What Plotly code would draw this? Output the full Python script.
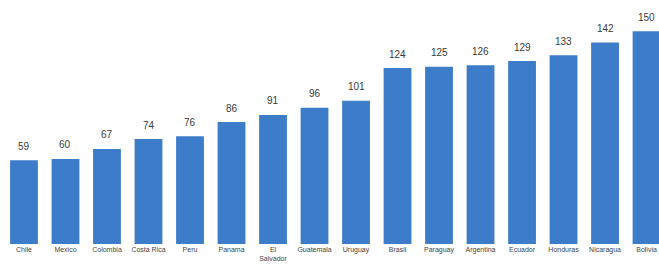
import plotly.graph_objects as go

countries = ["Chile", "Mexico", "Colombia", "Costa Rica", "Peru", "Panama", "El<br>Salvador",
             "Guatemala", "Uruguay", "Brasil", "Paraguay", "Argentina", "Ecuador",
             "Honduras", "Nicaragua", "Bolivia"]
values = [59, 60, 67, 74, 76, 86, 91, 96, 101, 124, 125, 126, 129, 133, 142, 150]

fig = go.Figure()
fig.add_trace(go.Bar(x=countries, y=values, marker_color="#3d7cc9", marker_line_width=0,
                     width=0.67))
for c, v in zip(countries, values):
    fig.add_annotation(x=c, y=v, text=str(v), showarrow=False, yshift=14,
                       font=dict(family="Liberation Sans, Arial", size=10, color="#3a3a3a"))

fig.update_layout(
    width=659, height=264,
    margin=dict(l=0, r=0, t=0, b=20),
    paper_bgcolor="white", plot_bgcolor="white",
    showlegend=False,
    xaxis=dict(range=[-0.578, 15.30], showgrid=False, showline=False, ticks="",
               tickfont=dict(family="Liberation Sans, Arial", size=7, color="#444"),
               tickangle=0, automargin=False),
    yaxis=dict(range=[0, 172], visible=False, showgrid=False, zeroline=False),
)
fig.write_html("out.html", config={"displayModeBar": False},
               post_script="document.body.style.margin='0';document.body.style.overflow='hidden';")
